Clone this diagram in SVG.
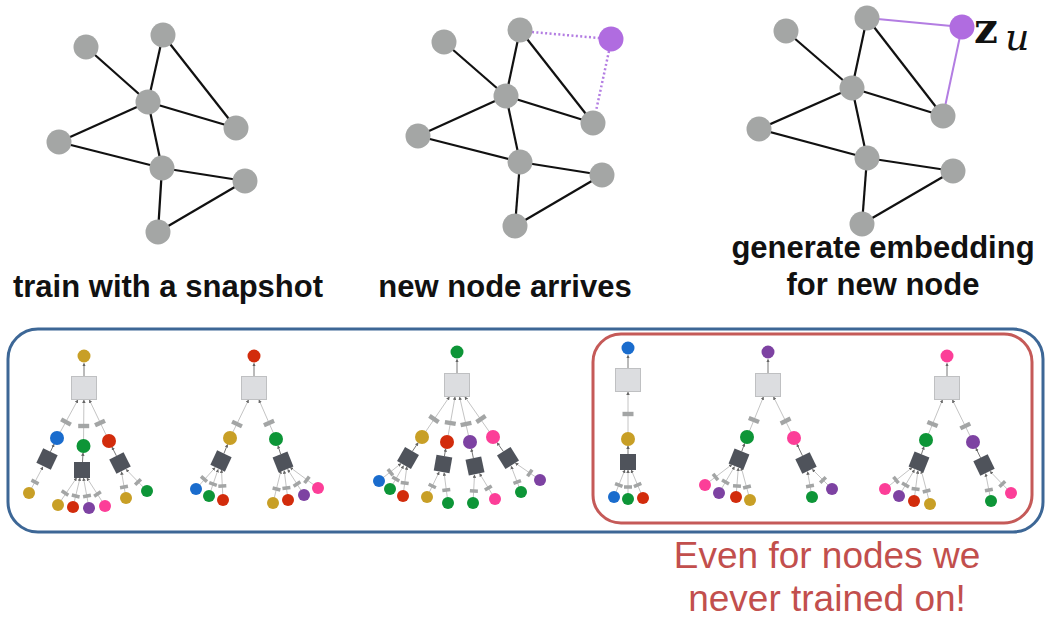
<svg xmlns="http://www.w3.org/2000/svg" width="1047" height="620" viewBox="0 0 1047 620">
<style>
.gn{fill:#a4a6a5}
.pn{fill:#b06ce0}
.ge{stroke:#111;stroke-width:2.2;fill:none}
.pe{stroke:#b37de2;stroke-width:2;fill:none}
.pd{stroke:#b37de2;stroke-width:2.5;stroke-dasharray:2 2.4;fill:none}
.te{stroke:#c4c4c4;stroke-width:1;marker-end:url(#ah)}
.ta{stroke:#777;stroke-width:1;marker-end:url(#ah)}
.ls{fill:#dcdde0;stroke:#bfc0c2;stroke-width:1}
.ds{fill:#4f535b}
.bar{fill:#a3a5a5}
.go{fill:#c89f26}.bl{fill:#1a6ccd}.gr{fill:#0d9537}.rd{fill:#d22c0c}.pu{fill:#7d42a2}.pk{fill:#fc3e98}
.lbl{font-family:"Liberation Sans",Arial,sans-serif;font-weight:bold;font-size:31px;fill:#111;text-anchor:middle}
.note{font-family:"Liberation Sans",Arial,sans-serif;font-size:37px;fill:#c24f4d;text-anchor:middle}
</style>
<defs>
<marker id="ah" viewBox="0 0 6 6" refX="5" refY="3" markerWidth="3.5" markerHeight="3.5" orient="auto" markerUnits="userSpaceOnUse"><path d="M0,0 L6,3 L0,6 z" fill="#666"/></marker>
</defs>
<rect width="1047" height="620" fill="#fff"/>

<!-- frames -->
<rect id="frame-all" x="8" y="329" width="1035" height="203" rx="30" fill="none" stroke="#3d6796" stroke-width="3"/>
<rect id="frame-new" x="593" y="334" width="439" height="189" rx="28" fill="none" stroke="#c55a58" stroke-width="3"/>

<g id="connectors">
<!-- graph 1 -->
<line class="ge" x1="86" y1="47" x2="148" y2="102"/>
<line class="ge" x1="163" y1="35" x2="148" y2="102"/>
<line class="ge" x1="163" y1="35" x2="236" y2="128"/>
<line class="ge" x1="148" y1="102" x2="236" y2="128"/>
<line class="ge" x1="148" y1="102" x2="59" y2="142"/>
<line class="ge" x1="148" y1="102" x2="162" y2="168"/>
<line class="ge" x1="59" y1="142" x2="162" y2="168"/>
<line class="ge" x1="162" y1="168" x2="245" y2="181"/>
<line class="ge" x1="162" y1="168" x2="158" y2="232"/>
<line class="ge" x1="245" y1="181" x2="158" y2="232"/>
<!-- graph 2 -->
<line class="ge" x1="444" y1="42" x2="506" y2="96"/>
<line class="ge" x1="520" y1="30" x2="506" y2="96"/>
<line class="ge" x1="520" y1="30" x2="593" y2="123"/>
<line class="ge" x1="506" y1="96" x2="593" y2="123"/>
<line class="ge" x1="506" y1="96" x2="418" y2="136"/>
<line class="ge" x1="506" y1="96" x2="520" y2="162"/>
<line class="ge" x1="418" y1="136" x2="520" y2="162"/>
<line class="ge" x1="520" y1="162" x2="602" y2="175"/>
<line class="ge" x1="520" y1="162" x2="515" y2="226"/>
<line class="ge" x1="602" y1="175" x2="515" y2="226"/>
<line class="pd" x1="532" y1="32" x2="599" y2="38"/>
<line class="pd" x1="609" y1="51" x2="596" y2="111"/>
<!-- graph 3 -->
<line class="ge" x1="786" y1="31" x2="852" y2="88"/>
<line class="ge" x1="867" y1="18" x2="852" y2="88"/>
<line class="ge" x1="867" y1="18" x2="943" y2="116"/>
<line class="ge" x1="852" y1="88" x2="943" y2="116"/>
<line class="ge" x1="852" y1="88" x2="759" y2="129"/>
<line class="ge" x1="852" y1="88" x2="867" y2="158"/>
<line class="ge" x1="759" y1="129" x2="867" y2="158"/>
<line class="ge" x1="867" y1="158" x2="953" y2="171"/>
<line class="ge" x1="867" y1="158" x2="862" y2="224"/>
<line class="ge" x1="953" y1="171" x2="862" y2="224"/>
<line class="pe" x1="867" y1="18" x2="962" y2="27"/>
<line class="pe" x1="962" y1="27" x2="943" y2="116"/>

<!-- tree 1 -->
<line class="ta" x1="84" y1="376.5" x2="84" y2="363.5"/>
<line class="te" x1="57" y1="438" x2="77.8" y2="400"/>
<line class="te" x1="83.5" y1="446" x2="83.9" y2="400"/>
<line class="te" x1="109" y1="441" x2="89.4" y2="400"/>
<line class="ta" x1="50.4" y1="451.8" x2="54" y2="444.3"/>
<line class="ta" x1="82.5" y1="462" x2="83" y2="453"/>
<line class="ta" x1="116.4" y1="455.8" x2="112.1" y2="447.3"/>
<line class="te" x1="29" y1="493" x2="42.8" y2="467"/>
<line class="te" x1="58" y1="505" x2="76.5" y2="478"/>
<line class="te" x1="73" y1="507" x2="80" y2="478"/>
<line class="te" x1="89" y1="508" x2="83.5" y2="478"/>
<line class="te" x1="105" y1="506" x2="87" y2="478"/>
<line class="te" x1="126" y1="498" x2="121.5" y2="471.9"/>
<line class="te" x1="147" y1="491" x2="126.2" y2="469.5"/>
<!-- tree 2 -->
<line class="ta" x1="254" y1="376.5" x2="254" y2="363.5"/>
<line class="te" x1="230" y1="438" x2="248.5" y2="400"/>
<line class="te" x1="276" y1="439" x2="259" y2="400"/>
<line class="ta" x1="223.9" y1="453.6" x2="227.5" y2="444.5"/>
<line class="ta" x1="280.7" y1="454.3" x2="278" y2="445.7"/>
<line class="te" x1="196" y1="489" x2="215" y2="467.7"/>
<line class="te" x1="209" y1="496" x2="218.1" y2="469.5"/>
<line class="te" x1="223" y1="500" x2="221.5" y2="470"/>
<line class="te" x1="273" y1="503" x2="280.9" y2="470.7"/>
<line class="te" x1="288" y1="500" x2="284.2" y2="470.9"/>
<line class="te" x1="304" y1="495" x2="287.8" y2="469.6"/>
<line class="te" x1="318" y1="488" x2="290.2" y2="467.4"/>
<!-- tree 3 -->
<line class="ta" x1="457" y1="373.5" x2="457" y2="359.5"/>
<line class="te" x1="422" y1="437" x2="449.3" y2="397"/>
<line class="te" x1="447" y1="442" x2="455" y2="397"/>
<line class="te" x1="470" y1="442" x2="459.6" y2="397"/>
<line class="te" x1="493" y1="437" x2="465" y2="397"/>
<line class="ta" x1="412.4" y1="451.3" x2="418.1" y2="442.8"/>
<line class="ta" x1="444.4" y1="456.1" x2="445.7" y2="448.9"/>
<line class="ta" x1="473.4" y1="458.2" x2="471.4" y2="448.9"/>
<line class="ta" x1="503.4" y1="451.5" x2="497.1" y2="442.7"/>
<line class="te" x1="379" y1="481" x2="400.9" y2="463.6"/>
<line class="te" x1="390" y1="489" x2="403.5" y2="465.8"/>
<line class="te" x1="403" y1="496" x2="406.8" y2="466.9"/>
<line class="te" x1="427" y1="497" x2="439.1" y2="472.1"/>
<line class="te" x1="448" y1="503" x2="444.1" y2="472.9"/>
<line class="te" x1="473" y1="503" x2="474.5" y2="475"/>
<line class="te" x1="495" y1="499" x2="479.7" y2="473.7"/>
<line class="te" x1="521" y1="492" x2="511.2" y2="466.4"/>
<line class="te" x1="540" y1="480" x2="515.4" y2="463.1"/>
<!-- tree 4 -->
<line class="ta" x1="628" y1="368.5" x2="628" y2="355.5"/>
<line class="te" x1="628" y1="439" x2="628" y2="392"/>
<line class="ta" x1="628" y1="454" x2="628" y2="446"/>
<line class="te" x1="614" y1="497" x2="624.8" y2="470"/>
<line class="te" x1="628" y1="499" x2="628" y2="470"/>
<line class="te" x1="643" y1="498" x2="631.3" y2="470"/>
<!-- tree 5 -->
<line class="ta" x1="768" y1="373.5" x2="768" y2="359.5"/>
<line class="te" x1="747" y1="437" x2="763.4" y2="397"/>
<line class="te" x1="794" y1="438" x2="773.6" y2="397"/>
<line class="ta" x1="741.7" y1="451.5" x2="744.6" y2="443.6"/>
<line class="ta" x1="802.5" y1="455.8" x2="797" y2="444.3"/>
<line class="te" x1="705" y1="485" x2="731.9" y2="464.5"/>
<line class="te" x1="719" y1="493" x2="734.4" y2="466.8"/>
<line class="te" x1="736" y1="497" x2="738.3" y2="468"/>
<line class="te" x1="750" y1="500" x2="741.3" y2="467.7"/>
<line class="te" x1="812" y1="497" x2="807.6" y2="471.9"/>
<line class="te" x1="832" y1="489" x2="812.4" y2="469.4"/>
<!-- tree 6 -->
<line class="ta" x1="947" y1="376.5" x2="947" y2="363.5"/>
<line class="te" x1="926" y1="440" x2="942.4" y2="400"/>
<line class="te" x1="973" y1="442" x2="952.5" y2="400"/>
<line class="ta" x1="921.4" y1="454.4" x2="923.9" y2="446.7"/>
<line class="ta" x1="980.6" y1="457.8" x2="976" y2="448.3"/>
<line class="te" x1="885" y1="489" x2="912" y2="467.6"/>
<line class="te" x1="899" y1="496" x2="914.4" y2="469.8"/>
<line class="te" x1="914" y1="501" x2="917.9" y2="470.9"/>
<line class="te" x1="930" y1="504" x2="921.3" y2="470.7"/>
<line class="te" x1="991" y1="501" x2="985.7" y2="473.8"/>
<line class="te" x1="1011" y1="493" x2="990.2" y2="471.5"/>
</g>

<!-- graph 1 nodes -->
<g id="g1-a"><circle class="gn" cx="86" cy="47" r="12.5"/></g>
<g id="g1-b"><circle class="gn" cx="163" cy="35" r="12.5"/></g>
<g id="g1-c"><circle class="gn" cx="148" cy="102" r="12.5"/></g>
<g id="g1-d"><circle class="gn" cx="236" cy="128" r="12.5"/></g>
<g id="g1-e"><circle class="gn" cx="59" cy="142" r="12.5"/></g>
<g id="g1-f"><circle class="gn" cx="162" cy="168" r="12.5"/></g>
<g id="g1-g"><circle class="gn" cx="245" cy="181" r="12.5"/></g>
<g id="g1-h"><circle class="gn" cx="158" cy="232" r="12.5"/></g>
<!-- graph 2 nodes -->
<g id="g2-a"><circle class="gn" cx="444" cy="42" r="12.5"/></g>
<g id="g2-b"><circle class="gn" cx="520" cy="30" r="12.5"/></g>
<g id="g2-new"><circle class="pn" cx="611" cy="39" r="12.5"/></g>
<g id="g2-c"><circle class="gn" cx="506" cy="96" r="12.5"/></g>
<g id="g2-d"><circle class="gn" cx="593" cy="123" r="12.5"/></g>
<g id="g2-e"><circle class="gn" cx="418" cy="136" r="12.5"/></g>
<g id="g2-f"><circle class="gn" cx="520" cy="162" r="12.5"/></g>
<g id="g2-g"><circle class="gn" cx="602" cy="175" r="12.5"/></g>
<g id="g2-h"><circle class="gn" cx="515" cy="226" r="12.5"/></g>
<!-- graph 3 nodes -->
<g id="g3-a"><circle class="gn" cx="786" cy="31" r="12.5"/></g>
<g id="g3-b"><circle class="gn" cx="867" cy="18" r="12.5"/></g>
<g id="g3-new"><circle class="pn" cx="962" cy="27" r="12.5"/>
<text x="974" y="43" font-family="'DejaVu Serif',serif" font-weight="bold" font-size="42" fill="#111">z</text>
<text x="1005" y="50" font-family="'DejaVu Serif',serif" font-style="italic" font-size="38" fill="#111">u</text></g>
<g id="g3-c"><circle class="gn" cx="852" cy="88" r="12.5"/></g>
<g id="g3-d"><circle class="gn" cx="943" cy="116" r="12.5"/></g>
<g id="g3-e"><circle class="gn" cx="759" cy="129" r="12.5"/></g>
<g id="g3-f"><circle class="gn" cx="867" cy="158" r="12.5"/></g>
<g id="g3-g"><circle class="gn" cx="953" cy="171" r="12.5"/></g>
<g id="g3-h"><circle class="gn" cx="862" cy="224" r="12.5"/></g>

<g id="labels">
<text class="lbl" x="168" y="297">train with a snapshot</text>
<text class="lbl" x="505" y="297">new node arrives</text>
<text class="lbl" x="883" y="258">generate embedding</text>
<text class="lbl" x="883" y="295">for new node</text>
<text class="note" x="827" y="568">Even for nodes we</text>
<text class="note" x="827" y="611">never trained on!</text>
</g>

<!-- tree 1 -->
<g id="tree1">
<circle class="go" cx="84" cy="356" r="6.5"/>
<rect class="ls" x="71.5" y="376.5" width="25" height="23"/>
<rect class="bar" x="-5.5" y="-2.2" width="11" height="4.4" transform="translate(66,422) rotate(28.4)"/>
<rect class="bar" x="-5.5" y="-2.2" width="11" height="4.4" transform="translate(83.7,426)"/>
<rect class="bar" x="-5.5" y="-2.2" width="11" height="4.4" transform="translate(100,423) rotate(-25.3)"/>
<circle class="bl" cx="57" cy="438" r="7"/>
<circle class="gr" cx="83.5" cy="446" r="7"/>
<circle class="rd" cx="109" cy="441" r="7"/>
<rect class="ds" x="-8" y="-8" width="16" height="16" transform="translate(47,459) rotate(25.5)"/>
<rect class="ds" x="-8" y="-8" width="16" height="16" transform="translate(82,470)"/>
<rect class="ds" x="-8" y="-8" width="16" height="16" transform="translate(120,463) rotate(-26.6)"/>
<rect class="bar" x="-4" y="-1.75" width="8" height="3.5" transform="translate(35,482) rotate(27.9)"/>
<rect class="bar" x="-4" y="-1.75" width="8" height="3.5" transform="translate(65,493) rotate(34.4)"/>
<rect class="bar" x="-4" y="-1.75" width="8" height="3.5" transform="translate(75.7,496) rotate(13.6)"/>
<rect class="bar" x="-4" y="-1.75" width="8" height="3.5" transform="translate(87,496) rotate(-10.4)"/>
<rect class="bar" x="-4" y="-1.75" width="8" height="3.5" transform="translate(97.5,494) rotate(-32.7)"/>
<rect class="bar" x="-4" y="-1.75" width="8" height="3.5" transform="translate(124,487) rotate(-9.7)"/>
<rect class="bar" x="-4" y="-1.75" width="8" height="3.5" transform="translate(138,482) rotate(-44)"/>
<circle class="go" cx="29" cy="493" r="6"/>
<circle class="go" cx="58" cy="505" r="6"/>
<circle class="rd" cx="73" cy="507" r="6"/>
<circle class="pu" cx="89" cy="508" r="6"/>
<circle class="pk" cx="105" cy="506" r="6"/>
<circle class="go" cx="126" cy="498" r="6"/>
<circle class="gr" cx="147" cy="491" r="6"/>
</g>

<!-- tree 2 -->
<g id="tree2">
<circle class="rd" cx="254" cy="356" r="6.5"/>
<rect class="ls" x="241.5" y="376.5" width="25" height="23"/>
<rect class="bar" x="-5.5" y="-2.2" width="11" height="4.4" transform="translate(237,424) rotate(25.7)"/>
<rect class="bar" x="-5.5" y="-2.2" width="11" height="4.4" transform="translate(269,423) rotate(-23.3)"/>
<circle class="go" cx="230" cy="438" r="7"/>
<circle class="gr" cx="276" cy="439" r="7"/>
<rect class="ds" x="-8" y="-8" width="16" height="16" transform="translate(221,461) rotate(25)"/>
<rect class="ds" x="-8" y="-8" width="16" height="16" transform="translate(283,462) rotate(-22)"/>
<rect class="bar" x="-4" y="-1.75" width="8" height="3.5" transform="translate(204,479) rotate(41.8)"/>
<rect class="bar" x="-4" y="-1.75" width="8" height="3.5" transform="translate(213,484) rotate(18.9)"/>
<rect class="bar" x="-4" y="-1.75" width="8" height="3.5" transform="translate(222.3,486) rotate(-3)"/>
<rect class="bar" x="-4" y="-1.75" width="8" height="3.5" transform="translate(276.5,489) rotate(13.7)"/>
<rect class="bar" x="-4" y="-1.75" width="8" height="3.5" transform="translate(286.4,488) rotate(-7.5)"/>
<rect class="bar" x="-4" y="-1.75" width="8" height="3.5" transform="translate(297,484) rotate(-32.5)"/>
<rect class="bar" x="-4" y="-1.75" width="8" height="3.5" transform="translate(306.9,479.8) rotate(-53.4)"/>
<circle class="bl" cx="196" cy="489" r="6"/>
<circle class="gr" cx="209" cy="496" r="6"/>
<circle class="rd" cx="223" cy="500" r="6"/>
<circle class="go" cx="273" cy="503" r="6"/>
<circle class="rd" cx="288" cy="500" r="6"/>
<circle class="pu" cx="304" cy="495" r="6"/>
<circle class="pk" cx="318" cy="488" r="6"/>
</g>

<!-- tree 3 -->
<g id="tree3">
<circle class="gr" cx="457" cy="352" r="6.5"/>
<rect class="ls" x="444.5" y="373.5" width="25" height="23"/>
<rect class="bar" x="-5.5" y="-2.2" width="11" height="4.4" transform="translate(434,419) rotate(34)"/>
<rect class="bar" x="-5.5" y="-2.2" width="11" height="4.4" transform="translate(450.3,423) rotate(10)"/>
<rect class="bar" x="-5.5" y="-2.2" width="11" height="4.4" transform="translate(466,424) rotate(-12.9)"/>
<rect class="bar" x="-5.5" y="-2.2" width="11" height="4.4" transform="translate(481,419) rotate(-34.7)"/>
<circle class="go" cx="422" cy="437" r="7"/>
<circle class="rd" cx="447" cy="442" r="7"/>
<circle class="pu" cx="470" cy="442" r="7"/>
<circle class="pk" cx="493" cy="437" r="7"/>
<rect class="ds" x="-8" y="-8" width="16" height="16" transform="translate(408,458) rotate(30)"/>
<rect class="ds" x="-8" y="-8" width="16" height="16" transform="translate(443,464) rotate(10)"/>
<rect class="ds" x="-8" y="-8" width="16" height="16" transform="translate(475,466) rotate(-12)"/>
<rect class="ds" x="-8" y="-8" width="16" height="16" transform="translate(508,458) rotate(-32)"/>
<rect class="bar" x="-4" y="-1.75" width="8" height="3.5" transform="translate(390.4,472.3) rotate(51.6)"/>
<rect class="bar" x="-4" y="-1.75" width="8" height="3.5" transform="translate(395.8,479) rotate(30.1)"/>
<rect class="bar" x="-4" y="-1.75" width="8" height="3.5" transform="translate(404.7,483) rotate(7.5)"/>
<rect class="bar" x="-4" y="-1.75" width="8" height="3.5" transform="translate(432.3,486) rotate(25.9)"/>
<rect class="bar" x="-4" y="-1.75" width="8" height="3.5" transform="translate(446.3,490) rotate(-7.3)"/>
<rect class="bar" x="-4" y="-1.75" width="8" height="3.5" transform="translate(473.9,491) rotate(3)"/>
<rect class="bar" x="-4" y="-1.75" width="8" height="3.5" transform="translate(488.3,488) rotate(-31.2)"/>
<rect class="bar" x="-4" y="-1.75" width="8" height="3.5" transform="translate(517.2,482) rotate(-20.9)"/>
<rect class="bar" x="-4" y="-1.75" width="8" height="3.5" transform="translate(529.8,473) rotate(-55.5)"/>
<circle class="bl" cx="379" cy="481" r="6"/>
<circle class="gr" cx="390" cy="489" r="6"/>
<circle class="rd" cx="403" cy="496" r="6"/>
<circle class="go" cx="427" cy="497" r="6"/>
<circle class="gr" cx="448" cy="503" r="6"/>
<circle class="gr" cx="473" cy="503" r="6"/>
<circle class="pk" cx="495" cy="499" r="6"/>
<circle class="gr" cx="521" cy="492" r="6"/>
<circle class="pu" cx="540" cy="480" r="6"/>
</g>

<!-- tree 4 -->
<g id="tree4">
<circle class="bl" cx="628" cy="348" r="6.5"/>
<rect class="ls" x="615.5" y="368.5" width="25" height="23"/>
<rect class="bar" x="-5.5" y="-2.2" width="11" height="4.4" transform="translate(628,414)"/>
<circle class="go" cx="628" cy="439" r="7"/>
<rect class="ds" x="-8" y="-8" width="16" height="16" transform="translate(628,462)"/>
<rect class="bar" x="-4" y="-1.75" width="8" height="3.5" transform="translate(618.8,485) rotate(21.8)"/>
<rect class="bar" x="-4" y="-1.75" width="8" height="3.5" transform="translate(628,487)"/>
<rect class="bar" x="-4" y="-1.75" width="8" height="3.5" transform="translate(637.6,485) rotate(-22.7)"/>
<circle class="bl" cx="614" cy="497" r="6"/>
<circle class="gr" cx="628" cy="499" r="6"/>
<circle class="rd" cx="643" cy="498" r="6"/>
</g>

<!-- tree 5 -->
<g id="tree5">
<circle class="pu" cx="768" cy="352" r="6.5"/>
<rect class="ls" x="755.5" y="373.5" width="25" height="23"/>
<rect class="bar" x="-5.5" y="-2.2" width="11" height="4.4" transform="translate(753.9,420) rotate(22)"/>
<rect class="bar" x="-5.5" y="-2.2" width="11" height="4.4" transform="translate(785.6,421) rotate(-26.2)"/>
<circle class="gr" cx="747" cy="437" r="7"/>
<circle class="pk" cx="794" cy="438" r="7"/>
<rect class="ds" x="-8" y="-8" width="16" height="16" transform="translate(739,459) rotate(22)"/>
<rect class="ds" x="-8" y="-8" width="16" height="16" transform="translate(806,463) rotate(-26)"/>
<rect class="bar" x="-4" y="-1.75" width="8" height="3.5" transform="translate(715.5,477) rotate(52.6)"/>
<rect class="bar" x="-4" y="-1.75" width="8" height="3.5" transform="translate(725.5,482) rotate(30.5)"/>
<rect class="bar" x="-4" y="-1.75" width="8" height="3.5" transform="translate(737,486) rotate(4.5)"/>
<rect class="bar" x="-4" y="-1.75" width="8" height="3.5" transform="translate(747,487) rotate(-15)"/>
<rect class="bar" x="-4" y="-1.75" width="8" height="3.5" transform="translate(810,486) rotate(-10)"/>
<rect class="bar" x="-4" y="-1.75" width="8" height="3.5" transform="translate(823,480) rotate(-45)"/>
<circle class="pk" cx="705" cy="485" r="6"/>
<circle class="pu" cx="719" cy="493" r="6"/>
<circle class="rd" cx="736" cy="497" r="6"/>
<circle class="go" cx="750" cy="500" r="6"/>
<circle class="gr" cx="812" cy="497" r="6"/>
<circle class="pu" cx="832" cy="489" r="6"/>
</g>

<!-- tree 6 -->
<g id="tree6">
<circle class="pk" cx="947" cy="356" r="6.5"/>
<rect class="ls" x="934.5" y="376.5" width="25" height="23"/>
<rect class="bar" x="-5.5" y="-2.2" width="11" height="4.4" transform="translate(932.5,424) rotate(22)"/>
<rect class="bar" x="-5.5" y="-2.2" width="11" height="4.4" transform="translate(965.3,426) rotate(-25.8)"/>
<circle class="gr" cx="926" cy="440" r="7"/>
<circle class="pu" cx="973" cy="442" r="7"/>
<rect class="ds" x="-8" y="-8" width="16" height="16" transform="translate(919,462) rotate(22)"/>
<rect class="ds" x="-8" y="-8" width="16" height="16" transform="translate(984,465) rotate(-26)"/>
<rect class="bar" x="-4" y="-1.75" width="8" height="3.5" transform="translate(896,480) rotate(51.5)"/>
<rect class="bar" x="-4" y="-1.75" width="8" height="3.5" transform="translate(905.5,485) rotate(30.5)"/>
<rect class="bar" x="-4" y="-1.75" width="8" height="3.5" transform="translate(915.6,489) rotate(7.3)"/>
<rect class="bar" x="-4" y="-1.75" width="8" height="3.5" transform="translate(926.6,491) rotate(-14.7)"/>
<rect class="bar" x="-4" y="-1.75" width="8" height="3.5" transform="translate(988.9,490) rotate(-11)"/>
<rect class="bar" x="-4" y="-1.75" width="8" height="3.5" transform="translate(1002.3,484) rotate(-44)"/>
<circle class="pk" cx="885" cy="489" r="6"/>
<circle class="pu" cx="899" cy="496" r="6"/>
<circle class="rd" cx="914" cy="501" r="6"/>
<circle class="go" cx="930" cy="504" r="6"/>
<circle class="gr" cx="991" cy="501" r="6"/>
<circle class="pk" cx="1011" cy="493" r="6"/>
</g>
</svg>
